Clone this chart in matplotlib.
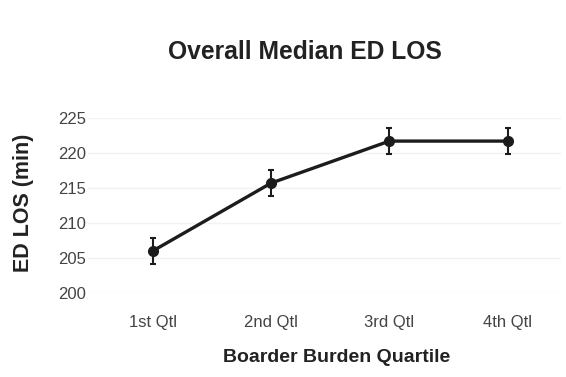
import matplotlib.pyplot as plt

# Data
quartiles = ['1st Qtl', '2nd Qtl', '3rd Qtl', '4th Qtl']
median_los = [206.0, 215.7, 221.7, 221.7]
err = [1.8, 1.8, 1.9, 1.9]
yticks = [200, 205, 210, 215, 220, 225]

plt.rcParams['font.family'] = ['Liberation Sans', 'DejaVu Sans']

fig = plt.figure(figsize=(5.66, 3.77), dpi=100)
ax = fig.add_axes([0.155, 0.223, 0.836, 0.464])

x = list(range(len(quartiles)))
ax.errorbar(x, median_los, yerr=err, color='#1c1c1c', linewidth=2.4,
            marker='o', markersize=7, elinewidth=1.5, capsize=2.5, capthick=1.5)

ax.set_xlim(-0.55, 3.45)
ax.set_ylim(200, 225)
ax.set_xticks(x)
ax.set_xticklabels(quartiles)
ax.set_yticks(yticks)
ax.tick_params(length=0, labelsize=12, colors='#444444')
ax.tick_params(axis='y', pad=1)
ax.tick_params(axis='x', pad=16)
ax.grid(axis='y', color='#f2f2f2', linewidth=1)
ax.set_axisbelow(True)
for s in ax.spines.values():
    s.set_visible(False)

ax.set_ylabel('ED LOS (min)', fontsize=15.5, fontweight='bold', color='#222222', va='center')
ax.yaxis.set_label_coords(-0.135, 0.514)
ax.set_xlabel('Boarder Burden Quartile', fontsize=14, fontweight='bold', color='#222222', va='center')
ax.xaxis.set_label_coords(0.526, -0.37)
fig.text(0.538, 0.862, 'Overall Median ED LOS', ha='center', va='center',
         fontsize=17.7, fontweight='bold', color='#222222')

fig.savefig('out.png', dpi=100)
